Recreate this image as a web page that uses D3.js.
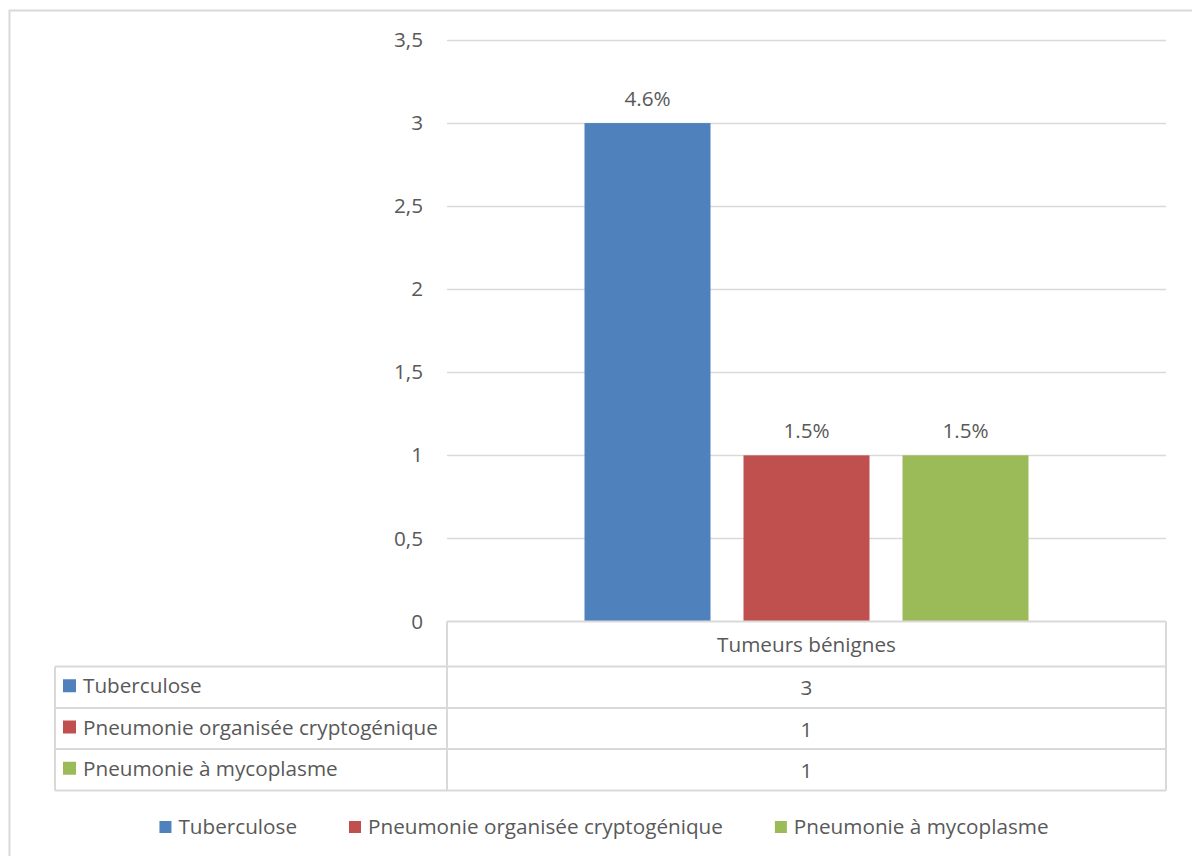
<!DOCTYPE html>
<html>
<head>
<meta charset="utf-8">
<script src="https://cdn.jsdelivr.net/npm/d3@7"></script>
<style>
  html, body { margin: 0; padding: 0; background: #ffffff; }
  svg { display: block; }
  text { font-family: "Open Sans", "Noto Sans", sans-serif; fill: #595959; }
</style>
</head>
<body>
<svg id="chart" width="1192" height="856"></svg>
<script>
// Chart data
const categories = ["Tumeurs bénignes"];
const seriesNames = ["Tuberculose", "Pneumonie organisée cryptogénique", "Pneumonie à mycoplasme"];
const seriesValues = [3, 1, 1];
const dataLabels = ["4.6%", "1.5%", "1.5%"];
const seriesColors = ["#4F81BD", "#C0504D", "#9BBB59"];
const yTicks = [0, 0.5, 1, 1.5, 2, 2.5, 3, 3.5];

const svg = d3.select("#chart");
const fontSize = 20.7;
const gridColor = "#d9d9d9";

// Plot area
const plot = { left: 447, right: 1166, top: 40, bottom: 621.5 };

// Outer chart frame
svg.append("rect")
  .attr("x", 9.5).attr("y", 10.5)
  .attr("width", 1220).attr("height", 900)
  .attr("fill", "none").attr("stroke", gridColor).attr("stroke-width", 2);

const y = d3.scaleLinear().domain([0, 3.5]).range([plot.bottom, plot.top]);
const x0 = d3.scaleBand().domain(categories).range([plot.left, plot.right])
  .paddingInner(0).paddingOuter(0.3097);
const x1 = d3.scaleBand().domain(seriesNames).range([0, x0.bandwidth()])
  .paddingInner(0.2075).paddingOuter(0);

const fr = d3.formatLocale({ decimal: ",", thousands: " ", grouping: [3], currency: ["", " €"] });
const fmtTick = fr.format("~g");

// Horizontal gridlines (the baseline is drawn with the table)
svg.append("g").selectAll("line")
  .data(yTicks.filter(d => d > 0))
  .join("line")
  .attr("x1", plot.left).attr("x2", plot.right)
  .attr("y1", d => Math.round(y(d)) + 0.5).attr("y2", d => Math.round(y(d)) + 0.5)
  .attr("stroke", gridColor).attr("stroke-width", 1.5);

// Y axis labels
const yAxis = d3.axisLeft(y).tickValues(yTicks).tickFormat(fmtTick).tickSize(0).tickPadding(24);
const yg = svg.append("g").attr("transform", `translate(${plot.left},0)`).call(yAxis);
yg.select(".domain").remove();
yg.selectAll("text").attr("font-size", fontSize).attr("fill", "#595959")
  .attr("font-family", "Open Sans, Noto Sans, sans-serif");

// Bars
const bars = svg.append("g");
categories.forEach(cat => {
  bars.selectAll(null)
    .data(seriesNames.map((s, i) => ({ s, v: seriesValues[i], label: dataLabels[i], c: seriesColors[i] })))
    .join("rect")
    .attr("x", d => x0(cat) + x1(d.s))
    .attr("y", d => y(d.v))
    .attr("width", x1.bandwidth())
    .attr("height", d => y(0) - y(d.v))
    .attr("fill", d => d.c);

  bars.selectAll(null)
    .data(seriesNames.map((s, i) => ({ s, v: seriesValues[i], label: dataLabels[i] })))
    .join("text")
    .attr("x", d => x0(cat) + x1(d.s) + x1.bandwidth() / 2)
    .attr("y", d => y(d.v) - 25)
    .attr("text-anchor", "middle")
    .attr("dominant-baseline", "central")
    .attr("font-size", fontSize)
    .text(d => d.label);
});

// Data table under the plot
const table = { left: 55, divider: plot.left, right: plot.right, headerTop: plot.bottom, rowTops: [666.5, 708, 749], bottom: 790.5 };
const tg = svg.append("g").attr("stroke", gridColor).attr("stroke-width", 2).attr("fill", "none");
// header row frame
tg.append("line").attr("x1", table.divider).attr("x2", table.right).attr("y1", table.headerTop).attr("y2", table.headerTop);
tg.append("line").attr("x1", table.divider).attr("x2", table.divider).attr("y1", table.headerTop).attr("y2", table.bottom);
tg.append("line").attr("x1", table.right).attr("x2", table.right).attr("y1", table.headerTop).attr("y2", table.bottom);
tg.append("line").attr("x1", table.left).attr("x2", table.left).attr("y1", table.rowTops[0]).attr("y2", table.bottom);
[...table.rowTops, table.bottom].forEach(ry => {
  tg.append("line").attr("x1", table.left).attr("x2", table.right).attr("y1", ry).attr("y2", ry);
});

// header: category name
categories.forEach(cat => {
  svg.append("text")
    .attr("x", x0(cat) + x0.bandwidth() / 2)
    .attr("y", (table.headerTop + table.rowTops[0]) / 2)
    .attr("text-anchor", "middle").attr("dominant-baseline", "central")
    .attr("font-size", fontSize).text(cat);
});

// table rows: legend key, series name and value
const rowBounds = [...table.rowTops, table.bottom];
seriesNames.forEach((s, i) => {
  const cy = (rowBounds[i] + rowBounds[i + 1]) / 2;
  svg.append("rect").attr("x", 63).attr("y", cy - 8).attr("width", 13).attr("height", 13).attr("fill", seriesColors[i]);
  svg.append("text").attr("x", 83).attr("y", cy - 2)
    .attr("dominant-baseline", "central").attr("font-size", fontSize).text(s);
  categories.forEach(cat => {
    svg.append("text")
      .attr("x", x0(cat) + x0.bandwidth() / 2).attr("y", cy)
      .attr("text-anchor", "middle").attr("dominant-baseline", "central")
      .attr("font-size", fontSize).text(d3.format("d")(seriesValues[i]));
  });
});

// Legend at the bottom, centred
const legend = svg.append("g");
const items = seriesNames.map((s, i) => {
  const g = legend.append("g");
  g.append("rect").attr("x", 0).attr("y", -6).attr("width", 12).attr("height", 12).attr("fill", seriesColors[i]);
  const t = g.append("text").attr("x", 19).attr("y", -1).attr("dominant-baseline", "central")
    .attr("font-size", fontSize).text(s);
  return { g, w: 19 + t.node().getComputedTextLength() };
});
const gap = 52;
const totalW = d3.sum(items, d => d.w) + gap * (items.length - 1);
let lx = 604 - totalW / 2;
items.forEach(it => {
  it.g.attr("transform", `translate(${lx},827)`);
  lx += it.w + gap;
});
</script>
</body>
</html>
